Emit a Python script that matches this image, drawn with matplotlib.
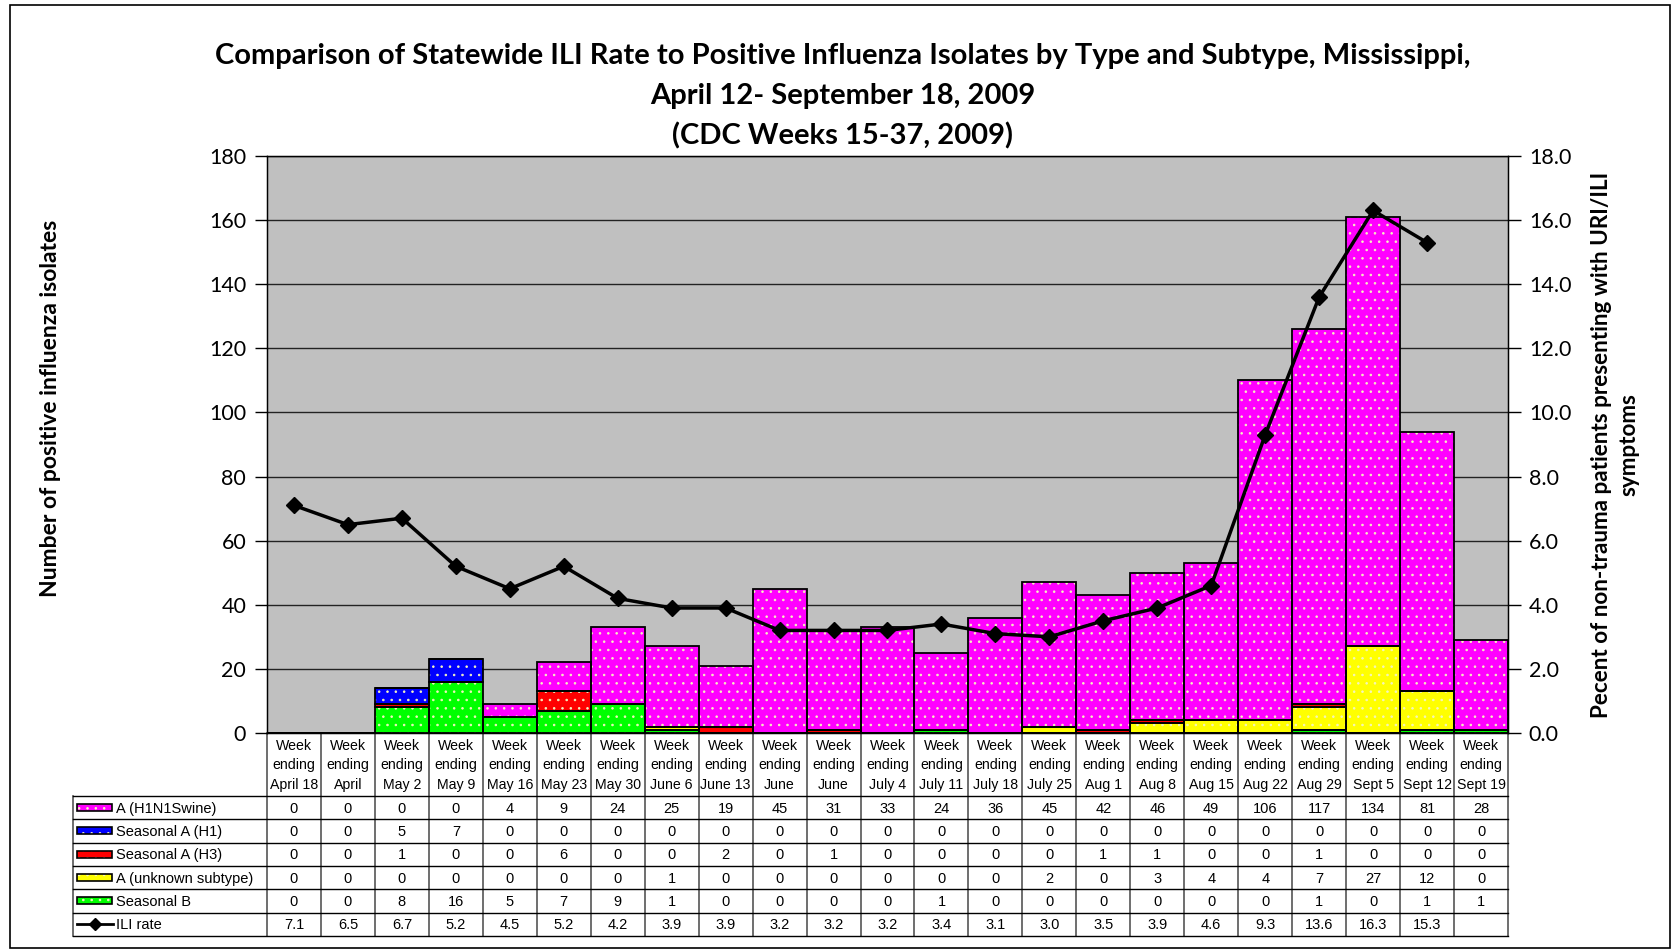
import numpy as np
import matplotlib
matplotlib.use("Agg")
import matplotlib.pyplot as plt
from matplotlib.patches import Rectangle
from matplotlib.lines import Line2D

plt.rcParams['hatch.linewidth'] = 0.6

# ---- data ----
weeks = ["April 18", "April", "May 2", "May 9", "May 16", "May 23", "May 30",
         "June 6", "June 13", "June", "June", "July 4", "July 11", "July 18",
         "July 25", "Aug 1", "Aug 8", "Aug 15", "Aug 22", "Aug 29", "Sept 5",
         "Sept 12", "Sept 19"]
h1n1 = [0, 0, 0, 0, 4, 9, 24, 25, 19, 45, 31, 33, 24, 36, 45, 42, 46, 49, 106, 117, 134, 81, 28]
seas_h1 = [0, 0, 5, 7, 0, 0, 0, 0, 0, 0, 0, 0, 0, 0, 0, 0, 0, 0, 0, 0, 0, 0, 0]
seas_h3 = [0, 0, 1, 0, 0, 6, 0, 0, 2, 0, 1, 0, 0, 0, 0, 1, 1, 0, 0, 1, 0, 0, 0]
unknown = [0, 0, 0, 0, 0, 0, 0, 1, 0, 0, 0, 0, 0, 0, 2, 0, 3, 4, 4, 7, 27, 12, 0]
seas_b = [0, 0, 8, 16, 5, 7, 9, 1, 0, 0, 0, 0, 1, 0, 0, 0, 0, 0, 0, 1, 0, 1, 1]
ili = [7.1, 6.5, 6.7, 5.2, 4.5, 5.2, 4.2, 3.9, 3.9, 3.2, 3.2, 3.2, 3.4, 3.1,
       3.0, 3.5, 3.9, 4.6, 9.3, 13.6, 16.3, 15.3, np.nan]

series_names = ["A (H1N1Swine)", "Seasonal A (H1)", "Seasonal A (H3)",
                "A (unknown subtype)", "Seasonal B"]
series_vals = [h1n1, seas_h1, seas_h3, unknown, seas_b]
series_cols = ["#FF00FF", "#0000FF", "#FF0000", "#FFFF00", "#00FF00"]

# ---- layout (pixels) ----
W, H = 1674, 950
AX_L, AX_R, AX_T, AX_B = 267, 1508, 156, 733
TAB_L, ROW_T, ROW_H = 73, 796, 23.3
n = len(weeks)
colw = (AX_R - AX_L) / n

title_font = 'Lato'
tab_font = 'Liberation Sans'
tab_size = 10.5

fig = plt.figure(figsize=(W / 100, H / 100), dpi=100)
ax = fig.add_axes([AX_L / W, 1 - AX_B / H, (AX_R - AX_L) / W, (AX_B - AX_T) / H])
ax.set_facecolor('#C0C0C0')
ax.set_axisbelow(True)

x = np.arange(n)
bottom = np.zeros(n)
# stacked from bottom: B, unknown, H3, H1, H1N1
for vals, col in reversed(list(zip(series_vals, series_cols))):
    v = np.array(vals, dtype=float)
    ax.bar(x, v, width=1.0, bottom=bottom, color=col, edgecolor='#F4F4C0',
           linewidth=0, hatch='..', zorder=2)
    ax.bar(x, v, width=1.0, bottom=bottom, fill=False, edgecolor='black',
           linewidth=1.3, zorder=3)
    bottom += v

ax.set_xlim(-0.5, n - 0.5)
ax.set_ylim(0, 180)
ax.set_yticks(range(0, 181, 20))
ax.set_xticks([])
ax.yaxis.grid(True, color='#222222', linewidth=1)
ax.tick_params(axis='y', length=9, width=1, pad=6, labelsize=15.5)
for lab in ax.get_yticklabels():
    lab.set_fontfamily(title_font)
for sp in ax.spines.values():
    sp.set_linewidth(1)

ax2 = ax.twinx()
ax2.plot(x, ili, color='black', linewidth=2.5, marker='D', markersize=8, zorder=5)
ax2.set_ylim(0, 18)
ax2.set_yticks(np.arange(0, 18.1, 2))
ax2.set_yticklabels([f"{t:.1f}" for t in np.arange(0, 18.1, 2)])
ax2.tick_params(axis='y', length=9, width=1, pad=6, labelsize=15.5)
for lab in ax2.get_yticklabels():
    lab.set_fontfamily(title_font)

# ---- titles and axis labels ----
title_lines = ["Comparison of Statewide ILI Rate to Positive Influenza Isolates by Type and Subtype, Mississippi,",
               "April 12- September 18, 2009",
               "(CDC Weeks 15-37, 2009)"]
for i, t in enumerate(title_lines):
    fig.text(843 / W, 1 - (56 + 40 * i) / H, t, ha='center', va='center',
             fontsize=21, fontweight='bold', family=title_font)

fig.text(51 / W, 1 - 408 / H, "Number of positive influenza isolates", rotation=90,
         ha='center', va='center', fontsize=16.5, fontweight='bold', family=title_font)
fig.text(1615 / W, 1 - 445 / H,
         "Pecent of non-trauma patients presenting with URI/ILI\nsymptoms",
         rotation=90, ha='center', va='center', fontsize=16.2, fontweight='bold',
         family=title_font, linespacing=1.35, multialignment='center')

# ---- data table below the axes ----
tab = fig.add_axes([0, 0, 1, 1], zorder=-1)
tab.set_xlim(0, W)
tab.set_ylim(H, 0)
tab.axis('off')

nrows = len(series_names) + 1
tab_B = ROW_T + nrows * ROW_H
col_edges = [AX_L + i * colw for i in range(n + 1)]

# header: week labels
for i, wk in enumerate(weeks):
    cx = (col_edges[i] + col_edges[i + 1]) / 2
    tab.text(cx, (AX_B + ROW_T) / 2 + 1, "Week\nending\n" + wk, ha='center', va='center',
             fontsize=10.2, family=tab_font, linespacing=1.5)
for xe in col_edges:
    tab.plot([xe, xe], [AX_B, tab_B], color='#555555', linewidth=1.2)
# body grid
tab.plot([TAB_L, TAB_L], [ROW_T, tab_B], color='#555555', linewidth=1.2)
for r in range(nrows + 1):
    yy = ROW_T + r * ROW_H
    tab.plot([TAB_L, AX_R], [yy, yy], color='black', linewidth=1)

rows = series_vals + [ili]
for r, vals in enumerate(rows):
    cy = ROW_T + (r + 0.5) * ROW_H
    for i, v in enumerate(vals):
        cx = (col_edges[i] + col_edges[i + 1]) / 2
        if r < len(series_vals):
            s = str(v)
        else:
            s = "" if np.isnan(v) else f"{v:.1f}"
        tab.text(cx, cy + 1, s, ha='center', va='center', fontsize=tab_size, family=tab_font)

# row labels with legend keys
for r, (name, col) in enumerate(zip(series_names, series_cols)):
    cy = ROW_T + (r + 0.5) * ROW_H
    tab.add_patch(Rectangle((77, cy - 3.5), 35, 7, facecolor=col, edgecolor='#F4F4C0',
                            linewidth=0, hatch='..'))
    tab.add_patch(Rectangle((77, cy - 3.5), 35, 7, fill=False, edgecolor='black',
                            linewidth=1.2))
    tab.text(116, cy + 1, name, ha='left', va='center', fontsize=tab_size, family=tab_font)
cy = ROW_T + (nrows - 0.5) * ROW_H
tab.add_line(Line2D([77, 113], [cy, cy], color='black', linewidth=2))
tab.add_line(Line2D([95], [cy], color='black', marker='D', markersize=6))
tab.text(116, cy + 1, "ILI rate", ha='left', va='center', fontsize=tab_size, family=tab_font)

# outer frame
tab.add_patch(Rectangle((10, 5), 1660, 943, fill=False, edgecolor='black', linewidth=1.2))

fig.savefig("out.png", dpi=100)
